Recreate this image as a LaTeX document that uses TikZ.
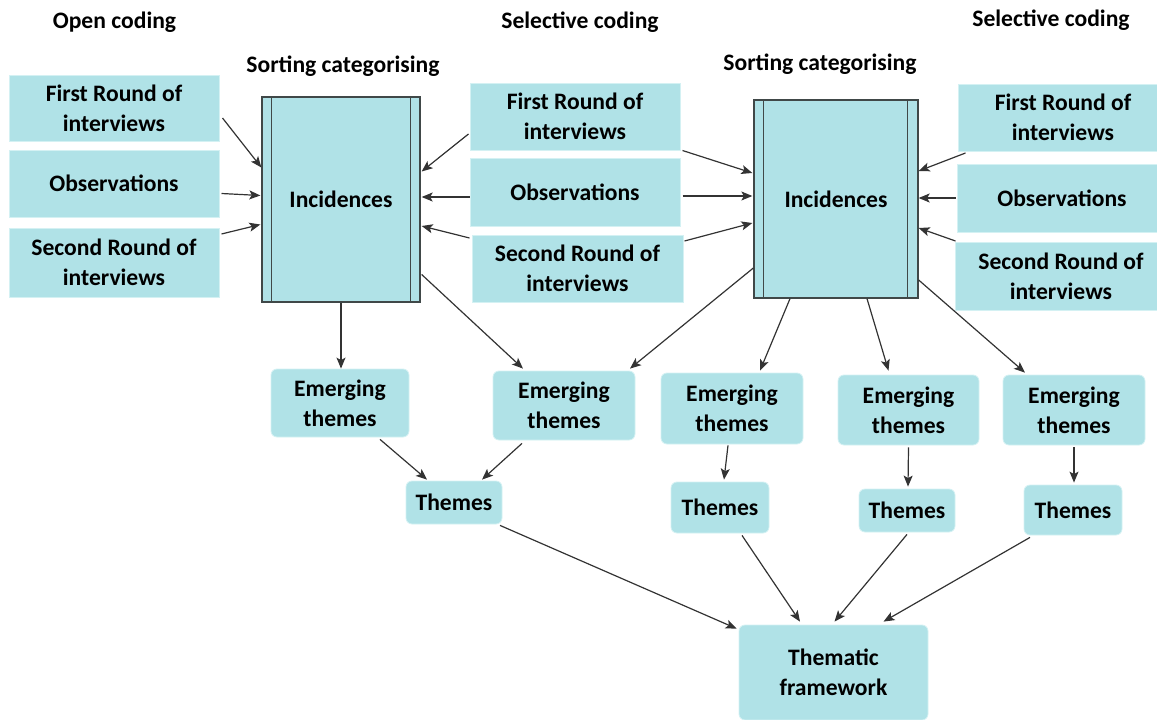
\documentclass[tikz,border=0pt]{standalone}
\usepackage{fontspec}
\setmainfont{Carlito}
\usetikzlibrary{arrows.meta}
\definecolor{boxfill}{HTML}{B0E2E7}
\definecolor{boxedge}{HTML}{D4F1F3}
\definecolor{incedge}{HTML}{404848}
\definecolor{arr}{HTML}{333333}
\begin{document}
\begin{tikzpicture}[x=1pt,y=-1pt,
  every node/.style={font=\fontsize{23.6}{30}\selectfont\bfseries, align=center, inner sep=0pt},
  src/.style={rectangle, fill=boxfill, draw=boxedge, line width=1pt},
  rbox/.style={rectangle, rounded corners=6pt, fill=boxfill, draw=boxedge, line width=0.8pt},
  inc/.style={rectangle, fill=boxfill, draw=incedge, line width=1.3pt},
  arrow/.style={draw=arr, line width=1.2pt, -{Stealth[length=11pt,width=9pt,inset=2.5pt]}}
]
\useasboundingbox (0,0) rectangle (1157,720);
% headings
\node (h1) at (114.5,22) {Open coding};
\node (h2) at (580,22) {Selective coding};
\node (h3) at (1051,20) {Selective coding};
\node (h4) at (343,66) {Sorting categorising};
\node (h5) at (820,64) {Sorting categorising};
% left column
\node[src, minimum width=210pt, minimum height=66pt] (fr1) at (114,108) {First Round of\\interviews};
\node[src, minimum width=210pt, minimum height=67pt] (obs1) at (114,183.5) {Observations};
\node[src, minimum width=210pt, minimum height=69pt] (sr1) at (114,262.5) {Second Round of\\interviews};
% middle column
\node[src, minimum width=210pt, minimum height=67pt] (fr2) at (575,116.5) {First Round of\\interviews};
\node[src, minimum width=210pt, minimum height=68pt] (obs2) at (575,192) {Observations};
\node[src, minimum width=211pt, minimum height=67pt] (sr2) at (577.5,268.5) {Second Round of\\interviews};
% right column (boxes run past the right edge)
\node[src, minimum width=210pt, minimum height=67pt] (fr3) at (1063,117.5) {First Round of\\interviews};
\node[src, minimum width=210pt, minimum height=68pt] (obs3) at (1062,198) {Observations};
\node[src, minimum width=212pt, minimum height=68pt] (sr3) at (1061,276) {Second Round of\\interviews};
% incidences
\node[inc, minimum width=158pt, minimum height=205pt] (inc1) at (341,199.5) {Incidences};
\draw[incedge, line width=1.3pt] ([shift={(10,0)}]inc1.north west) -- ([shift={(10,0)}]inc1.south west);
\draw[incedge, line width=1.3pt] ([shift={(-10,0)}]inc1.north east) -- ([shift={(-10,0)}]inc1.south east);
\node[inc, minimum width=164pt, minimum height=198pt] (inc2) at (836,199) {Incidences};
\draw[incedge, line width=1.3pt] ([shift={(10,0)}]inc2.north west) -- ([shift={(10,0)}]inc2.south west);
\draw[incedge, line width=1.3pt] ([shift={(-11,0)}]inc2.north east) -- ([shift={(-11,0)}]inc2.south east);
% emerging themes
\node[rbox, minimum width=138pt, minimum height=68pt] (e1) at (340,403) {Emerging\\themes};
\node[rbox, minimum width=142pt, minimum height=69pt] (e2) at (564,405.5) {Emerging\\themes};
\node[rbox, minimum width=142pt, minimum height=71pt] (e3) at (732,408.5) {Emerging\\themes};
\node[rbox, minimum width=141pt, minimum height=70pt] (e4) at (908.5,410) {Emerging\\themes};
\node[rbox, minimum width=142pt, minimum height=70pt] (e5) at (1074,410) {Emerging\\themes};
% themes
\node[rbox, minimum width=96pt, minimum height=43pt] (t1) at (454,502.5) {Themes};
\node[rbox, minimum width=98pt, minimum height=51pt] (t2) at (720,507.5) {Themes};
\node[rbox, minimum width=96pt, minimum height=43pt] (t3) at (907,510.5) {Themes};
\node[rbox, minimum width=98pt, minimum height=50pt] (t4) at (1073,510) {Themes};
% thematic framework
\node[rbox, minimum width=189pt, minimum height=95pt] (tf) at (833.5,672.5) {Thematic\\framework};
% arrows into incidences 1
\draw[arrow] ([shift={(3,10)}]fr1.east) -- ([shift={(0,-32)}]inc1.west);
\draw[arrow] ([shift={(2,10)}]obs1.east) -- ([shift={(-1,-4)}]inc1.west);
\draw[arrow] ([shift={(2,-28.5)}]sr1.east) -- ([shift={(-1,25)}]inc1.west);
\draw[arrow] ([shift={(-1,17.5)}]fr2.west) -- ([shift={(1,-28)}]inc1.east);
\draw[arrow] ([shift={(0,5)}]obs2.west) -- ([shift={(1,-2.5)}]inc1.east);
\draw[arrow] ([shift={(-2,-30.5)}]sr2.west) -- ([shift={(1,26.5)}]inc1.east);
% arrows into incidences 2
\draw[arrow] ([shift={(2,34)}]fr2.east) -- ([shift={(-1,-26)}]inc2.west);
\draw[arrow] ([shift={(2,4)}]obs2.east) -- ([shift={(-1,-3)}]inc2.west);
\draw[arrow] ([shift={(1,-27.5)}]sr2.east) -- ([shift={(-1,24)}]inc2.west);
\draw[arrow] ([shift={(8,35.5)}]fr3.west) -- ([shift={(0,-28)}]inc2.east);
\draw[arrow] ([shift={(-1,0)}]obs3.west) -- ([shift={(0,-1)}]inc2.east);
\draw[arrow] ([shift={(1,-35)}]sr3.west) -- ([shift={(0,29)}]inc2.east);
% incidences to emerging themes
\draw[arrow] (inc1.south) -- (inc1.south |- e1.north);
\draw[arrow] ([shift={(1,75)}]inc1.east) -- ([shift={(-41,-2)}]e2.north);
\draw[arrow] ([shift={(0,69)}]inc2.west) -- ([shift={(66,-2)}]e2.north);
\draw[arrow] ([shift={(-46,0)}]inc2.south) -- ([shift={(28,-2)}]e3.north);
\draw[arrow] ([shift={(31,0)}]inc2.south) -- ([shift={(-20,-4)}]e4.north);
\draw[arrow] ([shift={(0,81)}]inc2.east) -- ([shift={(-49,-2)}]e5.north);
% emerging themes to themes
\draw[arrow] ([shift={(40,2)}]e1.south) -- ([shift={(-27,-1)}]t1.north);
\draw[arrow] ([shift={(-42,3)}]e2.south) -- ([shift={(28,-1)}]t1.north);
\draw[arrow] ([shift={(-4,1)}]e3.south) -- ([shift={(4,-2)}]t2.north);
\draw[arrow] ([shift={(0,2)}]e4.south) -- ([shift={(1,-2)}]t3.north);
\draw[arrow] ([shift={(0,2)}]e5.south) -- ([shift={(1,-2)}]t4.north);
% themes to thematic framework
\draw[arrow] ([shift={(46,1)}]t1.south) -- ([shift={(-2,4)}]tf.north west);
\draw[arrow] ([shift={(22,2)}]t2.south) -- ([shift={(-33.5,-3)}]tf.north);
\draw[arrow] ([shift={(0,2)}]t3.south) -- ([shift={(1,-3)}]tf.north);
\draw[arrow] ([shift={(-43,2)}]t4.south) -- ([shift={(50,-3)}]tf.north);
\end{tikzpicture}
\end{document}
